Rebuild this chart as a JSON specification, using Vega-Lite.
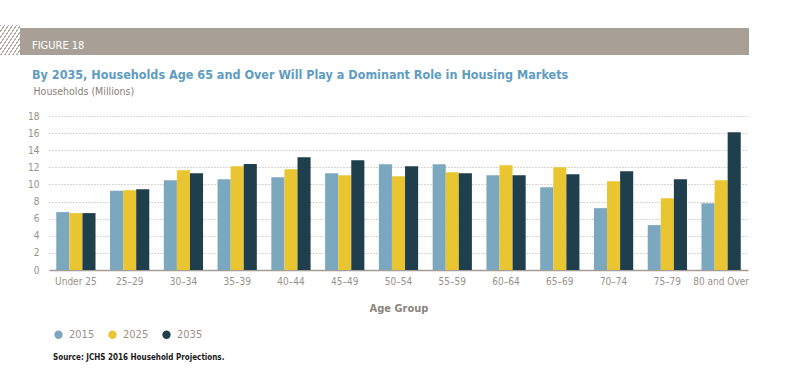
{
  "$schema": "https://vega.github.io/schema/vega-lite/v6.json",
  "autosize": {"type": "none"},
  "width": 699,
  "height": 154,
  "padding": {"left": 49, "top": 116, "right": 41, "bottom": 110},
  "background": "white",
  "config": {
    "view": {"stroke": null},
    "font": "'DejaVu Sans Condensed', Roboto, sans-serif"
  },
  "title": {
    "text": "FIGURE 18",
    "subtitle": "By 2035, Households Age 65 and Over Will Play a Dominant Role in Housing Markets",
    "anchor": "start",
    "frame": "group",
    "dx": -17,
    "offset": -56,
    "zindex": 2,
    "color": "#ffffff",
    "fontSize": 11,
    "fontWeight": "normal",
    "font": "'DejaVu Sans Condensed', Roboto, sans-serif",
    "subtitleFont": "'DejaVu Sans Condensed', Roboto, sans-serif",
    "subtitleColor": "#5e9cc2",
    "subtitleFontSize": 12.5,
    "subtitleFontWeight": "bold",
    "subtitlePadding": 18
  },
  "layer": [
    {
      "data": {
        "values": [
          {"age": "Under 25", "year": "2015", "value": 6.77},
          {"age": "Under 25", "year": "2025", "value": 6.65},
          {"age": "Under 25", "year": "2035", "value": 6.65},
          {"age": "25–29", "year": "2015", "value": 9.25},
          {"age": "25–29", "year": "2025", "value": 9.33},
          {"age": "25–29", "year": "2035", "value": 9.45},
          {"age": "30–34", "year": "2015", "value": 10.5},
          {"age": "30–34", "year": "2025", "value": 11.66},
          {"age": "30–34", "year": "2035", "value": 11.31},
          {"age": "35–39", "year": "2015", "value": 10.6},
          {"age": "35–39", "year": "2025", "value": 12.13},
          {"age": "35–39", "year": "2035", "value": 12.4},
          {"age": "40–44", "year": "2015", "value": 10.85},
          {"age": "40–44", "year": "2025", "value": 11.78},
          {"age": "40–44", "year": "2035", "value": 13.18},
          {"age": "45–49", "year": "2015", "value": 11.31},
          {"age": "45–49", "year": "2025", "value": 11.08},
          {"age": "45–49", "year": "2035", "value": 12.83},
          {"age": "50–54", "year": "2015", "value": 12.36},
          {"age": "50–54", "year": "2025", "value": 10.96},
          {"age": "50–54", "year": "2035", "value": 12.13},
          {"age": "55–59", "year": "2015", "value": 12.36},
          {"age": "55–59", "year": "2025", "value": 11.43},
          {"age": "55–59", "year": "2035", "value": 11.31},
          {"age": "60–64", "year": "2015", "value": 11.08},
          {"age": "60–64", "year": "2025", "value": 12.25},
          {"age": "60–64", "year": "2035", "value": 11.08},
          {"age": "65–69", "year": "2015", "value": 9.68},
          {"age": "65–69", "year": "2025", "value": 12.01},
          {"age": "65–69", "year": "2035", "value": 11.2},
          {"age": "70–74", "year": "2015", "value": 7.23},
          {"age": "70–74", "year": "2025", "value": 10.38},
          {"age": "70–74", "year": "2035", "value": 11.55},
          {"age": "75–79", "year": "2015", "value": 5.25},
          {"age": "75–79", "year": "2025", "value": 8.4},
          {"age": "75–79", "year": "2035", "value": 10.61},
          {"age": "80 and Over", "year": "2015", "value": 7.81},
          {"age": "80 and Over", "year": "2025", "value": 10.5},
          {"age": "80 and Over", "year": "2035", "value": 16.1}
        ]
      },
      "mark": {"type": "bar"},
      "encoding": {
        "x": {
          "field": "age",
          "type": "nominal",
          "sort": null,
          "title": "Age Group",
          "scale": {"paddingInner": 0.27, "paddingOuter": 0.135},
          "axis": {
            "labelAngle": 0,
            "labelFontSize": 10,
            "labelColor": "#9a9088",
            "labelPadding": 6,
            "ticks": false,
            "grid": false,
            "domainColor": "#a59c93",
            "domainWidth": 1.5,
            "titleFontSize": 11,
            "titleFontWeight": "bold",
            "titleColor": "#8c847c",
            "titlePadding": 16
          }
        },
        "xOffset": {"field": "year", "type": "nominal", "scale": {"paddingInner": 0, "paddingOuter": 0}},
        "y": {
          "field": "value",
          "type": "quantitative",
          "title": "Households (Millions)",
          "scale": {"domain": [0, 18], "nice": false},
          "axis": {
            "values": [0, 2, 4, 6, 8, 10, 12, 14, 16, 18],
            "domain": false,
            "ticks": false,
            "grid": true,
            "gridDash": [1, 2],
            "gridColor": "#b3aca4",
            "labelFontSize": 10,
            "labelColor": "#9a9088",
            "labelPadding": 10,
            "titleAngle": 0,
            "titleAlign": "left",
            "titleBaseline": "middle",
            "titleX": -16,
            "titleY": -25,
            "titleFontSize": 10.5,
            "titleFontWeight": "normal",
            "titleColor": "#8a8179"
          }
        },
        "color": {
          "field": "year",
          "type": "nominal",
          "title": "Source: JCHS 2016 Household Projections.",
          "scale": {"domain": ["2015", "2025", "2035"], "range": ["#7ca8bf", "#e9c532", "#1e3f4b"]},
          "legend": {
            "orient": "none",
            "legendX": 4,
            "legendY": 213,
            "direction": "horizontal",
            "titleOrient": "bottom",
            "titleAnchor": "start",
            "titleFontSize": 8,
            "titleFontWeight": "bold",
            "titleColor": "#1a1a1a",
            "titlePadding": 14,
            "symbolType": "circle",
            "symbolSize": 70,
            "symbolStrokeWidth": 0,
            "symbolOpacity": 1,
            "labelFontSize": 11,
            "labelColor": "#9a9088",
            "labelOffset": 5,
            "columnPadding": 12
          }
        }
      }
    },
    {
      "data": {"values": [{}]},
      "layer": [
        {
          "mark": {
            "type": "rect",
            "color": {
              "gradient": "linear",
              "x1": 0, "y1": 0, "x2": 1, "y2": 1,
              "stops": [
                {"offset": 0, "color": "#b3aca4"}, {"offset": 0.035, "color": "#b3aca4"}, {"offset": 0.035, "color": "#ffffff"}, {"offset": 0.1, "color": "#ffffff"},
                {"offset": 0.1, "color": "#b3aca4"}, {"offset": 0.135, "color": "#b3aca4"}, {"offset": 0.135, "color": "#ffffff"}, {"offset": 0.2, "color": "#ffffff"},
                {"offset": 0.2, "color": "#b3aca4"}, {"offset": 0.235, "color": "#b3aca4"}, {"offset": 0.235, "color": "#ffffff"}, {"offset": 0.3, "color": "#ffffff"},
                {"offset": 0.3, "color": "#b3aca4"}, {"offset": 0.335, "color": "#b3aca4"}, {"offset": 0.335, "color": "#ffffff"}, {"offset": 0.4, "color": "#ffffff"},
                {"offset": 0.4, "color": "#b3aca4"}, {"offset": 0.435, "color": "#b3aca4"}, {"offset": 0.435, "color": "#ffffff"}, {"offset": 0.5, "color": "#ffffff"},
                {"offset": 0.5, "color": "#b3aca4"}, {"offset": 0.535, "color": "#b3aca4"}, {"offset": 0.535, "color": "#ffffff"}, {"offset": 0.6, "color": "#ffffff"},
                {"offset": 0.6, "color": "#b3aca4"}, {"offset": 0.635, "color": "#b3aca4"}, {"offset": 0.635, "color": "#ffffff"}, {"offset": 0.7, "color": "#ffffff"},
                {"offset": 0.7, "color": "#b3aca4"}, {"offset": 0.735, "color": "#b3aca4"}, {"offset": 0.735, "color": "#ffffff"}, {"offset": 0.8, "color": "#ffffff"},
                {"offset": 0.8, "color": "#b3aca4"}, {"offset": 0.835, "color": "#b3aca4"}, {"offset": 0.835, "color": "#ffffff"}, {"offset": 0.9, "color": "#ffffff"},
                {"offset": 0.9, "color": "#b3aca4"}, {"offset": 0.935, "color": "#b3aca4"}, {"offset": 0.935, "color": "#ffffff"}, {"offset": 1, "color": "#ffffff"}
              ]
            }
          },
          "encoding": {
            "x": {"datum": -49, "type": "quantitative", "scale": {"domain": [0, 699], "nice": false, "zero": false}, "axis": null},
            "x2": {"datum": -29},
            "y": {"datum": 245, "type": "quantitative", "scale": {"domain": [0, 154], "nice": false, "zero": false}, "axis": null},
            "y2": {"datum": 215}
          }
        },
        {
          "mark": {"type": "rect", "color": "#a8a096"},
          "encoding": {
            "x": {"datum": -29, "type": "quantitative"},
            "x2": {"datum": 700},
            "y": {"datum": 242, "type": "quantitative"},
            "y2": {"datum": 215}
          }
        }
      ]
    }
  ],
  "resolve": {"scale": {"x": "independent", "y": "independent"}}
}
